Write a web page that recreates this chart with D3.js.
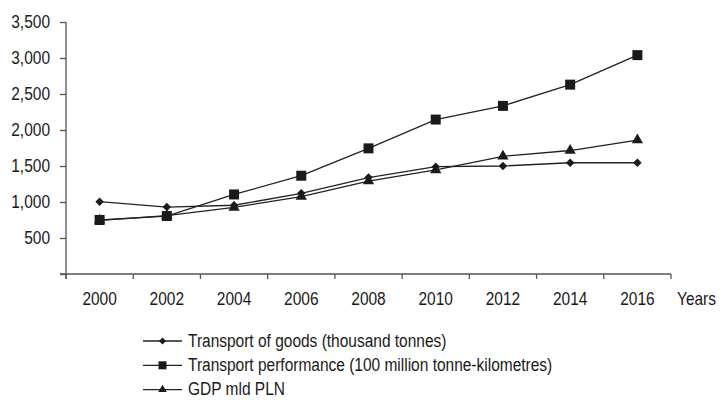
<!DOCTYPE html>
<html>
<head>
<meta charset="utf-8">
<script src="https://cdn.jsdelivr.net/npm/d3@7"></script>
<style>
  html, body { margin: 0; padding: 0; background: #fff; }
  svg { display: block; }
  text { font-family: "Liberation Sans", Arial, sans-serif; fill: #1a1a1a; }
</style>
</head>
<body>
<svg id="chart" width="720" height="400"></svg>
<script>
const years = ["2000", "2002", "2004", "2006", "2008", "2010", "2012", "2014", "2016"];
const goods = [1005, 930, 955, 1120, 1340, 1490, 1500, 1545, 1545];
const performance = [750, 805, 1105, 1365, 1745, 2145, 2335, 2630, 3040];
const gdp = [745, 810, 925, 1075, 1290, 1445, 1635, 1715, 1860];
const seriesNames = [
  "Transport of goods (thousand tonnes)",
  "Transport performance (100 million tonne-kilometres)",
  "GDP mld PLN"
];
const yTicks = [500, 1000, 1500, 2000, 2500, 3000, 3500];
const xTitle = "Years";

// rotated square for the diamond marker
const symbolRhombus = {
  draw(context, size) {
    const r = Math.sqrt(size / 2);
    context.moveTo(0, -r);
    context.lineTo(r, 0);
    context.lineTo(0, r);
    context.lineTo(-r, 0);
    context.closePath();
  }
};

const series = [
  { name: seriesNames[0], values: goods, symbol: symbolRhombus, size: 36, legendSize: 24 },
  { name: seriesNames[1], values: performance, symbol: d3.symbolSquare, size: 100, legendSize: 64 },
  { name: seriesNames[2], values: gdp, symbol: d3.symbolTriangle, size: 55, legendSize: 32 }
];

const svg = d3.select("#chart");
const plot = { left: 66, right: 671, top: 22, bottom: 274 };
const fontSize = 18;
const condense = 0.86;

// narrow the lettering horizontally, keeping its height
function condenseText(sel) {
  sel.each(function () {
    const w = this.getComputedTextLength();
    d3.select(this).attr("textLength", w * condense).attr("lengthAdjust", "spacingAndGlyphs");
  });
}

const x = d3.scaleBand().domain(years).range([plot.left, plot.right]);
const y = d3.scaleLinear().domain([0, 3500]).range([plot.bottom, plot.top]);

const axisColor = "#555";

// Y axis
const yAxis = svg.append("g")
  .attr("transform", `translate(${plot.left},0)`)
  .call(d3.axisLeft(y).tickValues([0, ...yTicks]).tickSize(6).tickPadding(10)
    .tickFormat(d => d === 0 ? "" : d3.format(",")(d)));
yAxis.select(".domain").attr("stroke", axisColor).attr("stroke-width", 1.3)
  .attr("d", `M0,${plot.top}V${plot.bottom + 5}`);
yAxis.selectAll(".tick line").attr("stroke", axisColor).attr("stroke-width", 1.3);
yAxis.selectAll(".tick text").attr("font-size", fontSize).attr("fill", "#1a1a1a")
  .attr("font-family", null).call(condenseText);

// X axis, ticks at category boundaries
const xAxisG = svg.append("g").attr("transform", `translate(0,${plot.bottom})`);
xAxisG.append("line")
  .attr("x1", plot.left - 6).attr("x2", plot.right)
  .attr("stroke", axisColor).attr("stroke-width", 1.3);
const boundaries = years.map(d => x(d)).concat([x(years[years.length - 1]) + x.bandwidth()]);
xAxisG.selectAll("line.tick").data(boundaries).enter().append("line")
  .attr("class", "tick")
  .attr("x1", d => d).attr("x2", d => d).attr("y1", 0).attr("y2", 5)
  .attr("stroke", axisColor).attr("stroke-width", 1.3);
xAxisG.selectAll("text.lab").data(years).enter().append("text")
  .attr("class", "lab")
  .attr("x", d => x(d) + x.bandwidth() / 2)
  .attr("y", 31)
  .attr("text-anchor", "middle")
  .attr("font-size", fontSize)
  .text(d => d)
  .call(condenseText);
// axis title, narrowed with a transform so its box stays inside the page
xAxisG.append("text")
  .attr("transform", `translate(${plot.right + 6},31) scale(${condense},1)`)
  .attr("font-size", fontSize)
  .text(xTitle);

// Lines and markers
const cx = d => x(d) + x.bandwidth() / 2;
const line = d3.line().x((v, i) => cx(years[i])).y(v => y(v));

series.forEach(s => {
  svg.append("path")
    .attr("d", line(s.values))
    .attr("fill", "none")
    .attr("stroke", "#222")
    .attr("stroke-width", 1.3);
});
series.forEach(s => {
  svg.append("g").selectAll("path").data(s.values).enter().append("path")
    .attr("transform", (v, i) => `translate(${cx(years[i])},${y(v)})`)
    .attr("d", d3.symbol().type(s.symbol).size(s.size))
    .attr("fill", "#1a1a1a");
});

// Legend
const legend = svg.append("g").attr("transform", "translate(143,341)");
series.forEach((s, i) => {
  const g = legend.append("g").attr("transform", `translate(0,${i * 24.3})`);
  g.append("line").attr("x1", 0).attr("x2", 39).attr("stroke", "#222").attr("stroke-width", 1.3);
  g.append("path").attr("transform", "translate(19.5,0)")
    .attr("d", d3.symbol().type(s.symbol).size(s.legendSize))
    .attr("fill", "#1a1a1a");
  g.append("text").attr("x", 45).attr("y", 5.5).attr("font-size", fontSize).text(s.name)
    .call(condenseText);
});
</script>
</body>
</html>
